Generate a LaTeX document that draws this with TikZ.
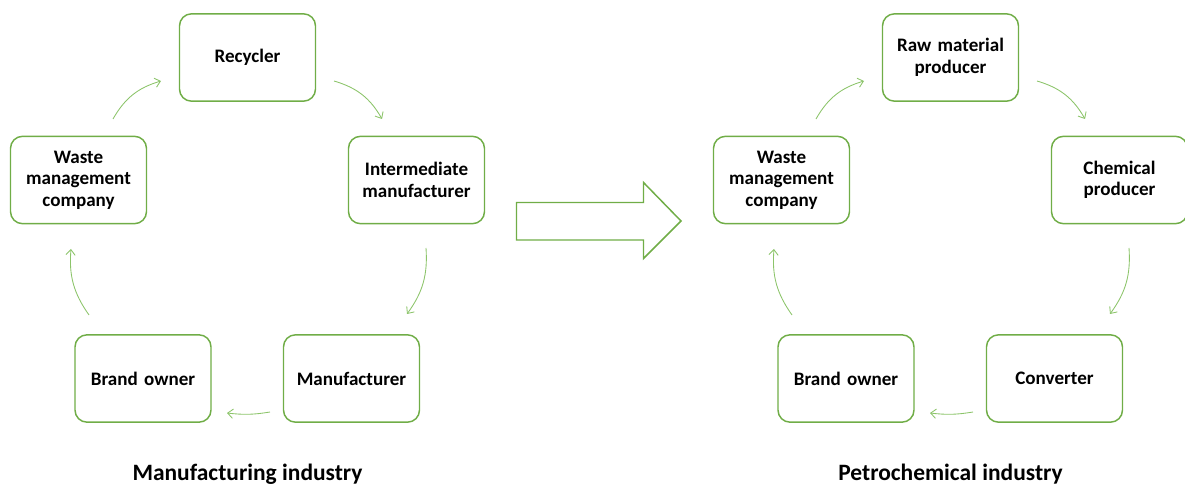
\documentclass[tikz,border=0pt]{standalone}
\usepackage{fontspec}
\setmainfont{Carlito}
\usetikzlibrary{arrows.meta,calc}
\definecolor{boxgreen}{HTML}{70AD47}
\definecolor{linkgreen}{HTML}{8CC46A}
\begin{document}
\begin{tikzpicture}[x=0.75pt,y=0.75pt,
  actor/.style={draw=boxgreen, line width=1.1pt, rounded corners=9pt,
    minimum width=102pt, minimum height=65.5pt, text width=98pt,
    align=center, inner sep=0pt,
    font=\fontsize{14.3}{16.2}\selectfont\bfseries},
  link/.style={draw=linkgreen, line width=0.65pt,
    -{Straight Barb[length=4pt,width=7pt]}},
  caption/.style={anchor=base, font=\fontsize{17.6}{21}\selectfont\bfseries},
  shiftarrow/.style={draw=boxgreen, line width=1.1pt, fill=white, line join=miter}]
\useasboundingbox (0,0) rectangle (1185,-484);

% manufacturing cycle
\node[actor] (rec) at (247.5,-57.5)   {Recycler};
\node[actor] (wl)  at (78.5,-180)     {Waste\\management\\company};
\node[actor] (im)  at (416.5,-180)    {Intermediate\\manufacturer};
\node[actor] (bl)  at (143,-378.5)    {Brand owner};
\node[actor] (mf)  at (351.5,-378.5)  {Manufacturer};

\draw[link] ($(wl)+(34.5,61)$) to[bend left=22] ($(rec)+(-86.5,-23.5)$);
\draw[link] ($(rec)+(86.5,-23.5)$) to[bend left=22] ($(im)+(-34.5,61)$);
\draw[link] ($(im)+(9.5,-68)$) to[bend left=20] ($(mf)+(55.5,64.5)$);
\draw[link] ($(mf)+(-81.5,-33.5)$) to[bend left=8] ($(bl)+(84,-34.5)$);
\draw[link] ($(bl)+(-54,63.5)$) to[bend left=20] ($(wl)+(-7.5,-69)$);

\node[caption] (capl) at (247.5,-480) {Manufacturing industry};

% transition arrow
\draw[shiftarrow] (516.5,-202.5) -- (643.5,-202.5) -- (643.5,-182.5)
  -- (681,-221) -- (643.5,-258.5) -- (643.5,-240) -- (516.5,-240) -- cycle;

% petrochemical cycle
\node[actor] (raw)  at (950.5,-57.5)  {Raw material\\producer};
\node[actor] (wr)   at (781.5,-180)   {Waste\\management\\company};
\node[actor] (chem) at (1119.5,-180)  {Chemical\\producer};
\node[actor] (br)   at (846,-378.5)   {Brand owner};
\node[actor] (conv) at (1054.5,-378.5){Converter};

\draw[link] ($(wr)+(34.5,61)$) to[bend left=22] ($(raw)+(-86.5,-23.5)$);
\draw[link] ($(raw)+(86.5,-23.5)$) to[bend left=22] ($(chem)+(-34.5,61)$);
\draw[link] ($(chem)+(9.5,-68)$) to[bend left=20] ($(conv)+(55.5,64.5)$);
\draw[link] ($(conv)+(-81.5,-33.5)$) to[bend left=8] ($(br)+(84,-34.5)$);
\draw[link] ($(br)+(-54,63.5)$) to[bend left=20] ($(wr)+(-7.5,-69)$);

\node[caption] (capr) at (950.5,-480) {Petrochemical industry};
\end{tikzpicture}
\end{document}
